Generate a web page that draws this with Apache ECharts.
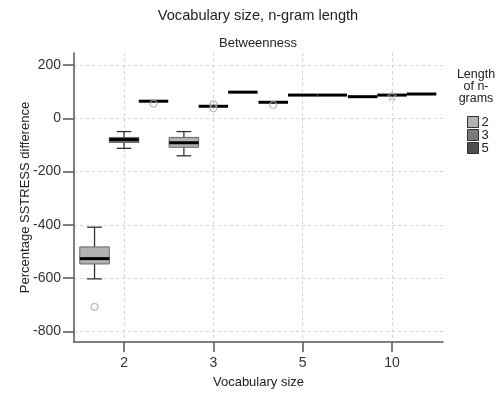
<!DOCTYPE html>
<html>
<head>
<meta charset="utf-8">
<script src="https://cdn.jsdelivr.net/npm/echarts@6/dist/echarts.min.js"></script>
<style>
html,body{margin:0;padding:0;background:#fff;}
#chart{width:504px;height:394px;}
</style>
</head>
<body>
<div id="chart"></div>
<script>
// ---- data ----
const categories = ['2', '3', '5', '10'];          // vocabulary size
const ngramLengths = ['2', '3', '5'];              // legend
const yTicks = [-800, -600, -400, -200, 0, 200];
// [min, Q1, median, Q3, max] per vocabulary size
const box2 = [[-603, -547, -527, -483, -409], [-141, -109, -92, -72, -50], [60, 60, 60, 60, 60], [81, 81, 81, 81, 81]];
const box3 = [[-113, -91, -80, -72, -50], [45, 45, 45, 45, 45], [87, 87, 87, 87, 87], [87, 87, 87, 87, 87]];
const box5 = [[64, 64, 64, 64, 64], [98, 98, 98, 98, 98], [87, 87, 87, 87, 87], [91, 91, 91, 91, 91]];
// outliers: [category index, value]
const out2 = [[0, -708], [2, 50]];
const out3 = [[1, 52], [1, 38]];
const out5 = [[0, 55]];
const extreme3 = [[3, 83]];

// ---- styling ----
const fills = ['#b3b3b3', '#7b7b7b', '#4f4f4f'];
const offsets = [-0.33, 0, 0.33];
const BOX_W = 0.33;
const boxes = [box2, box3, box5];
const outs = [out2, out3, out5];
const FONT = '"Liberation Sans", Arial, sans-serif';

function makeRender(k) {
  return function (params, api) {
    const xv = api.value(0) + offsets[k];
    const cx = api.coord([xv, 0])[0];
    const w = api.size([BOX_W, 0])[0];
    const ys = [1, 2, 3, 4, 5].map(i => api.coord([xv, api.value(i)])[1]);
    const yMin = ys[0], yQ1 = ys[1], yMed = ys[2], yQ3 = ys[3], yMax = ys[4];
    const children = [];
    const wl = { stroke: '#333', lineWidth: 1.3 };
    if (Math.abs(yQ1 - yQ3) > 0.5) {
      children.push({ type: 'line', shape: { x1: cx, y1: yMax, x2: cx, y2: yQ3 }, style: wl });
      children.push({ type: 'line', shape: { x1: cx, y1: yQ1, x2: cx, y2: yMin }, style: wl });
      children.push({ type: 'line', shape: { x1: cx - w / 4, y1: yMax, x2: cx + w / 4, y2: yMax }, style: wl });
      children.push({ type: 'line', shape: { x1: cx - w / 4, y1: yMin, x2: cx + w / 4, y2: yMin }, style: wl });
      children.push({ type: 'rect', shape: { x: cx - w / 2, y: yQ3, width: w, height: yQ1 - yQ3 },
        style: { fill: fills[k], stroke: '#666', lineWidth: 1 } });
    }
    children.push({ type: 'line', shape: { x1: cx - w / 2, y1: yMed, x2: cx + w / 2, y2: yMed },
      style: { stroke: '#000', lineWidth: 3 } });
    return { type: 'group', children: children };
  };
}

const series = [];
for (let k = 0; k < 3; k++) {
  series.push({
    name: ngramLengths[k],
    type: 'custom',
    renderItem: makeRender(k),
    itemStyle: { color: fills[k], borderColor: '#333', borderWidth: 1 },
    encode: { x: 0, y: [1, 2, 3, 4, 5] },
    data: boxes[k].map((b, i) => [i + 1].concat(b)),
    z: 3
  });
}
for (let k = 0; k < 3; k++) {
  series.push({
    name: 'outliers ' + ngramLengths[k],
    type: 'scatter',
    symbol: 'circle',
    symbolSize: 7,
    itemStyle: { color: 'rgba(255,255,255,0)', borderColor: '#a8a8a8', borderWidth: 1.3 },
    data: outs[k].map(o => [o[0] + 1 + offsets[k], o[1]]),
    z: 4
  });
}
series.push({
  name: 'extreme 3',
  type: 'scatter',
  symbol: 'path://M0,-10 L2.4,-3.3 L9.5,-3.1 L3.9,1.3 L5.9,8.1 L0,4.1 L-5.9,8.1 L-3.9,1.3 L-9.5,-3.1 L-2.4,-3.3 Z',
  symbolSize: 9,
  itemStyle: { color: 'rgba(255,255,255,0)', borderColor: '#a8a8a8', borderWidth: 1 },
  data: extreme3.map(o => [o[0] + 1 + offsets[1], o[1]]),
  z: 4
});

const chart = echarts.init(document.getElementById('chart'));
chart.setOption({
  animation: false,
  backgroundColor: '#fff',
  textStyle: { fontFamily: FONT },
  graphic: [
    { type: 'text', x: 258, y: 16, style: { text: 'Vocabulary size, n-gram length', align: 'center', verticalAlign: 'middle', font: '14.6px ' + FONT, fill: '#222' } },
    { type: 'text', x: 258, y: 43, style: { text: 'Betweenness', align: 'center', verticalAlign: 'middle', font: '13px ' + FONT, fill: '#222' } },
    { type: 'text', x: 476, y: 87, style: { text: 'Length\nof n-\ngrams', align: 'center', verticalAlign: 'middle', lineHeight: 12, font: '12.5px ' + FONT, fill: '#222' } }
  ],
  legend: {
    data: ngramLengths,
    orient: 'vertical',
    left: 467,
    top: 115.5,
    padding: 0,
    icon: 'rect',
    itemWidth: 11,
    itemHeight: 11,
    itemGap: 0,
    itemStyle: { borderColor: '#333', borderWidth: 1 },
    textStyle: { fontSize: 13, color: '#222', padding: [0, 0, 0, -2] }
  },
  grid: { left: 74, right: 61, top: 53, bottom: 50 },
  xAxis: {
    type: 'value',
    min: 0.44,
    max: 4.57,
    name: 'Vocabulary size',
    nameLocation: 'middle',
    nameGap: 34,
    nameMoveOverlap: false,
    nameTextStyle: { fontSize: 13, color: '#222' },
    axisLine: { onZero: false, lineStyle: { color: '#555', width: 1.5 } },
    axisTick: { show: true, length: 10, customValues: [1, 2, 3, 4], lineStyle: { color: '#555', width: 1.5 } },
    axisLabel: { customValues: [1, 2, 3, 4], formatter: v => categories[Math.round(v) - 1], fontSize: 14, color: '#333', margin: 14 },
    splitLine: { show: true, lineStyle: { color: '#d4d4d4', type: [3, 3], width: 1 } }
  },
  yAxis: {
    type: 'value',
    min: -840,
    max: 245,
    name: 'Percentage SSTRESS difference',
    nameLocation: 'middle',
    nameGap: 42,
    nameMoveOverlap: false,
    nameTextStyle: { fontSize: 13, color: '#222' },
    axisLine: { show: true, onZero: false, lineStyle: { color: '#555', width: 1.5 } },
    axisTick: { show: true, length: 11, customValues: yTicks, lineStyle: { color: '#555', width: 1.5 } },
    axisLabel: { customValues: yTicks, fontSize: 14, color: '#333', margin: 13 },
    splitLine: { show: true, lineStyle: { color: '#d4d4d4', type: [3, 3], width: 1 } }
  },
  series: series
});
</script>
</body>
</html>
